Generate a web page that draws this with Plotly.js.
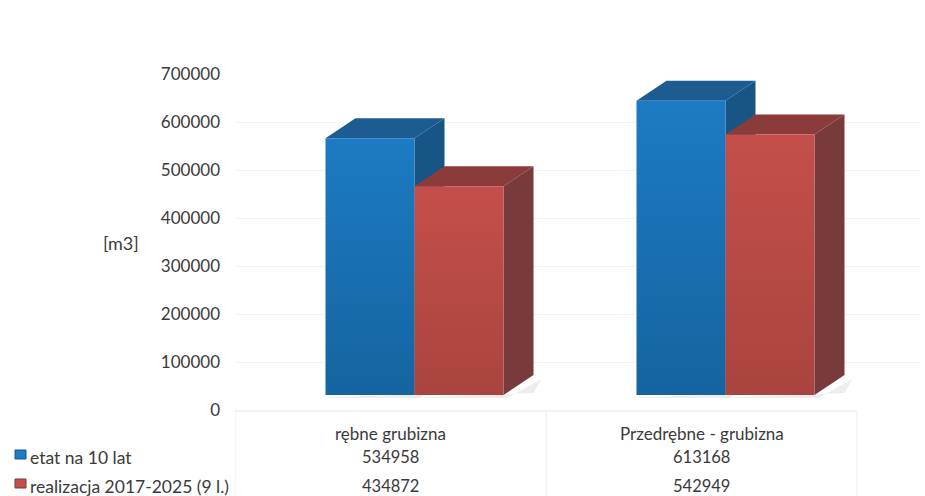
<!DOCTYPE html>
<html>
<head>
<meta charset="utf-8">
<script src="https://cdn.plot.ly/plotly-3.0.1.min.js"></script>
<style>html,body{margin:0;padding:0;background:#fff;}#chart{width:925px;height:496px;}</style>
</head>
<body>
<div id="chart"></div>
<script>
// ---- data ----
const categories = ['rębne grubizna', 'Przedrębne - grubizna'];
const seriesNames = ['etat na 10 lat', 'realizacja 2017-2025 (9 l.)'];
const etat = [534958, 613168];
const realizacja = [434872, 542949];
const yTicks = [0, 100000, 200000, 300000, 400000, 500000, 600000, 700000];
const unitLabel = '[m3]';

// ---- geometry / style ----
const W = 925, H = 496;
const M = {l: 235, r: 5, t: 74, b: 86};
const plotW = W - M.l - M.r, plotH = H - M.t - M.b;
const pxX = 311;                  // pixels per category unit
const xRange = [-0.5, -0.5 + plotW / pxX];
const yMax = 700000;
const yPx = yMax / plotH;         // data units per pixel
const barW = 89 / pxX;
const groupOff = -65 / pxX;
const dX = 30 / pxX, dY = 20 * yPx, lift = 15 * yPx;
const FONT = 'Lato, "Open Sans", sans-serif';
const TXT = '#3a3a3a';

const series = [
  {name: seriesNames[0], vals: etat, light: '#1c7bc3', dark: '#15649f', side: '#175585', top: '#1c5c91'},
  {name: seriesNames[1], vals: realizacja, light: '#c44f4a', dark: '#a9443f', side: '#783a3b', top: '#8b3b3a'}
];

function poly(xs, ys, color, extra) {
  return Object.assign({type: 'scatter', mode: 'lines', fill: 'toself', hoverinfo: 'skip', showlegend: false,
    x: xs, y: ys, line: {width: 0}, fillcolor: color}, extra || {});
}

const shadowTraces = [], faceTraces = [];
categories.forEach((c, ci) => {
  series.forEach((s, si) => {
    const v = s.vals[ci];
    const x0 = ci + groupOff + si * barW, x1 = x0 + barW;
    const b = lift, t = lift + v;
    // soft shadow on the floor
    shadowTraces.push(poly(
      [x0 - 8 / pxX, x1 + 4 / pxX, x1 + dX + 8 / pxX, x1 + dX, x0 - 8 / pxX],
      [b - 3 * yPx, b - 3 * yPx, b + dY - 4 * yPx, b + 2 * yPx, b - 3 * yPx],
      'rgba(0,0,0,0.07)'));
    // side face
    faceTraces.push(poly([x1, x1 + dX, x1 + dX, x1, x1], [b, b + dY, t + dY, t, b], s.side));
    // top face
    faceTraces.push(poly([x0, x0 + dX, x1 + dX, x1, x0], [t, t + dY, t + dY, t, t], s.top));
    // front face
    faceTraces.push(poly([x0, x1, x1, x0, x0], [b, b, t, t, b], s.light, {
      name: s.name,
      fillgradient: {type: 'vertical', colorscale: [[0, s.dark], [1, s.light]]}
    }));
  });
});
const traces = shadowTraces.concat(faceTraces);

// pixel helpers for layout decorations
const pX = px => (px - M.l) / plotW;
const pY = py => (H - M.b - py) / plotH;

const annotations = [];
const shapes = [];
annotations.push({xref: 'paper', yref: 'paper', x: pX(121), y: pY(243), text: unitLabel, showarrow: false,
  font: {family: FONT, size: 18, color: TXT}, xanchor: 'center', yanchor: 'middle'});
const rowsY = [433, 457, 486];
categories.forEach((c, ci) => {
  annotations.push({xref: 'x', yref: 'paper', x: ci, y: pY(rowsY[0]), text: c, showarrow: false,
    font: {family: FONT, size: 17, color: TXT}, xanchor: 'center', yanchor: 'middle'});
  series.forEach((s, si) => {
    annotations.push({xref: 'x', yref: 'paper', x: ci, y: pY(rowsY[si + 1]), text: String(s.vals[ci]), showarrow: false,
      font: {family: FONT, size: 16.5, color: TXT}, xanchor: 'center', yanchor: 'middle'});
  });
});
series.forEach((s, si) => {
  const cy = rowsY[si + 1] - 2;
  shapes.push({type: 'rect', xref: 'paper', yref: 'paper', x0: pX(15), x1: pX(26), y0: pY(cy + 4), y1: pY(cy - 5),
    fillcolor: s.light, line: {width: 1, color: s.side}});
  annotations.push({xref: 'paper', yref: 'paper', x: pX(28), y: pY(rowsY[si + 1]), text: s.name, showarrow: false,
    font: {family: FONT, size: 17.5, color: TXT}, xanchor: 'left', yanchor: 'middle'});
});
// table lines
[-0.5, 0.5, 1.5].forEach(xv => {
  shapes.push({type: 'line', xref: 'x', yref: 'paper', x0: xv, x1: xv, y0: pY(412), y1: pY(496),
    line: {color: '#ececec', width: 1}});
});
shapes.push({type: 'line', xref: 'x', yref: 'paper', x0: -0.5, x1: 1.5, y0: pY(411), y1: pY(411),
  line: {color: '#e6e6e6', width: 1}});

const layout = {
  width: W, height: H, margin: M, paper_bgcolor: '#fff', plot_bgcolor: '#fff',
  showlegend: false,
  xaxis: {range: xRange, showgrid: false, zeroline: false, showticklabels: false, ticks: '', fixedrange: true},
  yaxis: {range: [0, yMax], tickvals: yTicks, ticktext: yTicks.map(String), showgrid: true, gridcolor: '#f3f3f3',
    zeroline: false, ticks: '', ticklabelstandoff: 14, tickfont: {family: FONT, size: 17, color: TXT}, fixedrange: true},
  annotations: annotations, shapes: shapes
};

Plotly.newPlot('chart', traces, layout, {displayModeBar: false, staticPlot: true});
</script>
</body>
</html>
